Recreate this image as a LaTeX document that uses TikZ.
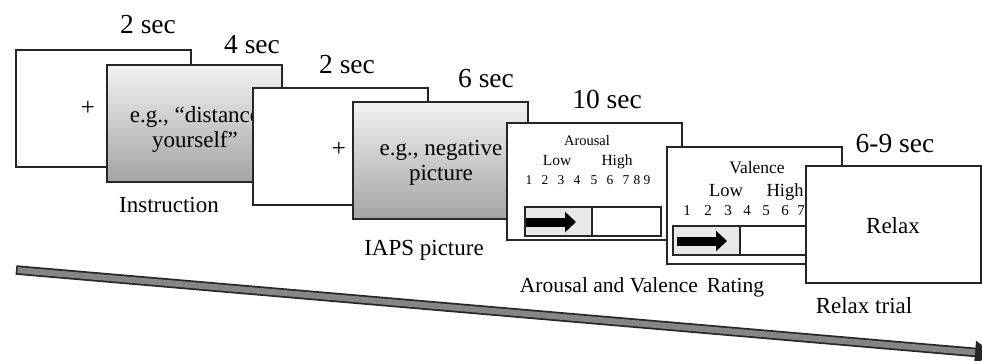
\documentclass[tikz,border=0pt]{standalone}
\usepackage{fontspec}
\setmainfont{Liberation Serif}
\usetikzlibrary{arrows.meta}
\begin{document}
\begin{tikzpicture}[x=1pt,y=-1pt,
  slide/.style={draw=black!85, line width=1.5pt, fill=white, anchor=north west,
    inner sep=0pt, outer sep=0pt, minimum width=175pt, minimum height=117pt},
  cue/.style={slide, top color=black!5, bottom color=black!36},
  txt/.style={anchor=base, inner sep=0pt, outer sep=0pt},
  dur/.style={txt, font=\fontsize{27.5}{30}\selectfont},
  lbl/.style={txt, font=\fontsize{23}{25}\selectfont},
  cuetext/.style={txt, font=\fontsize{23}{25}\selectfont},
  bar/.style={draw=black!85, line width=1.2pt, anchor=north west, inner sep=0pt,
    outer sep=0pt, minimum height=29pt},
  pointer/.style={line width=9pt, black, -{Triangle[length=11pt,width=20pt]}},
]
\useasboundingbox (0,0) rectangle (982,360);

% fixation 1
\node[slide] (fixA) at (16,50) {};
\node[lbl, font=\fontsize{25}{27}\selectfont] (plusA) at (88,115) {+};
% instruction cue
\node[cue] (instr) at (107,65) {};
\node[cuetext] (instrA) at (195,122) {e.g., “distance};
\node[cuetext] (instrB) at (195,147) {yourself”};
% fixation 2
\node[slide] (fixB) at (253,88) {};
\node[lbl, font=\fontsize{25}{27}\selectfont] (plusB) at (339,156) {+};
% picture
\node[cue] (pict) at (353,102) {};
\node[cuetext] (pictA) at (441,155) {e.g., negative};
\node[cuetext] (pictB) at (441,180) {picture};

% arousal rating
\node[slide] (arous) at (507,123) {};
\node[txt, font=\fontsize{14.5}{16}\selectfont] (arT) at (587,145) {Arousal};
\node[txt, font=\fontsize{15.5}{17}\selectfont] (arLow) at (557,165) {Low};
\node[txt, font=\fontsize{15.5}{17}\selectfont] (arHigh) at (617,165) {High};
\foreach \d/\px in {1/529,2/545,3/561,4/577,5/594,6/610,7/626,8/637,9/647}
  \node[txt, font=\fontsize{13.5}{15}\selectfont] (arN\d) at (\px,184) {\d};
\node[bar, minimum width=67pt, fill=black!9] (arBarL) at (525,207) {};
\node[bar, minimum width=69pt, fill=white] (arBarR) at (592,207) {};
\coordinate (arP1) at (526,222);
\coordinate (arP2) at (576,222);
\draw[pointer] (arP1) -- (arP2);

% valence rating
\node[slide] (valen) at (667,147) {};
\node[txt, font=\fontsize{17.5}{19}\selectfont] (vaT) at (757,173) {Valence};
\node[txt, font=\fontsize{18.5}{20}\selectfont] (vaLow) at (726,196) {Low};
\node[txt, font=\fontsize{18.5}{20}\selectfont] (vaHigh) at (785,196) {High};
\foreach \d/\px in {1/687,2/708,3/728,4/747,5/766,6/785,7/801}
  \node[txt, font=\fontsize{15}{17}\selectfont] (vaN\d) at (\px,215) {\d};
\node[bar, minimum width=67pt, fill=black!9] (vaBarL) at (673,226) {};
\node[bar, minimum width=75pt, fill=white] (vaBarR) at (740,226) {};
\coordinate (vaP1) at (677,241);
\coordinate (vaP2) at (727,241);
\draw[pointer] (vaP1) -- (vaP2);

% relax
\node[slide] (relax) at (806,166) {};
\node[lbl] (relaxT) at (893,233) {Relax};

% durations
\node[dur] (d1) at (148,33) {2 sec};
\node[dur] (d2) at (252,53) {4 sec};
\node[dur] (d3) at (347,73) {2 sec};
\node[dur] (d4) at (486,87) {6 sec};
\node[dur] (d5) at (607,108) {10 sec};
\node[dur] (d6) at (895,152) {6-9 sec};

% phase labels
\node[lbl] (l1) at (169,212) {Instruction};
\node[lbl] (l2) at (424,255) {IAPS picture};
\node[lbl, font=\fontsize{21.5}{24}\selectfont] (l3) at (642,292) {Arousal and Valence\, Rating};
\node[lbl] (l4) at (864,313) {Relax trial};

% time line
\coordinate (tstart) at (16,270);
\coordinate (tend) at (994,354);
\draw[line width=9.5pt, black!85, -{Triangle[length=19pt,width=22pt]}] (tstart) -- (tend);
\draw[line width=6pt, black!48, shorten <=1.5pt, shorten >=19pt] (tstart) -- (tend);
\end{tikzpicture}
\end{document}
